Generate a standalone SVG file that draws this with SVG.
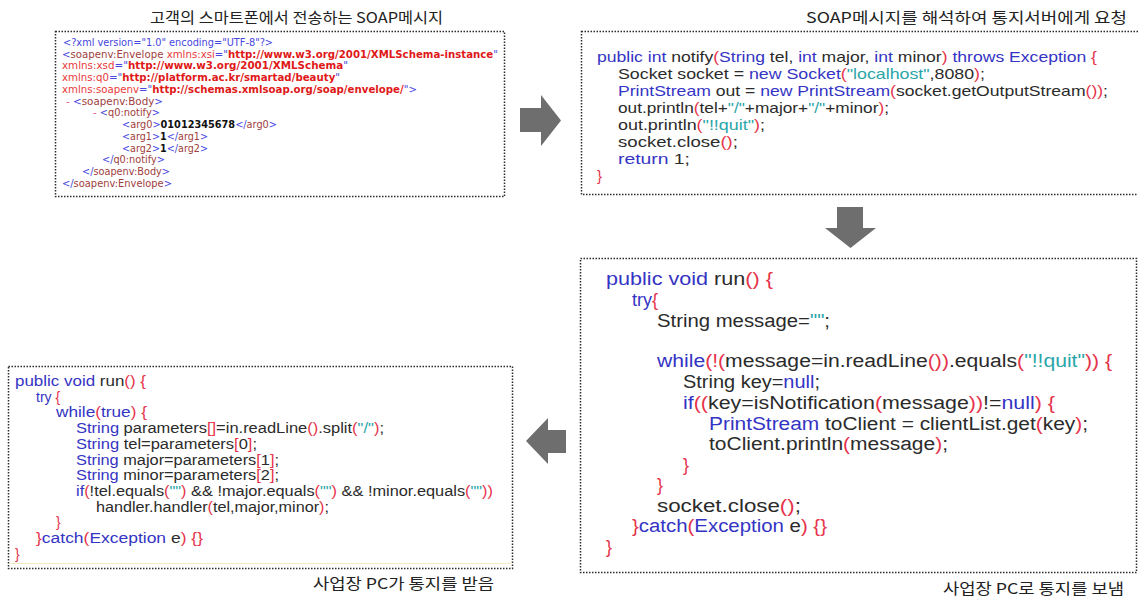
<svg xmlns="http://www.w3.org/2000/svg" width="1138" height="602" viewBox="0 0 1138 602">
  <style>
    .frame { fill: #ffffff; stroke: #2a2a2a; stroke-width: 1.5; stroke-dasharray: 1.5 1.5; }
    .cap { font-family: "Noto Sans CJK KR", "Liberation Sans", sans-serif; font-size: 15px; fill: #222; }
    .xml { font-family: "DejaVu Sans", "Liberation Sans", sans-serif; font-size: 10px; }
    .code { font-family: "Liberation Sans", "DejaVu Sans", sans-serif; fill: #2b2b2b; }
    .c17 { font-size: 15px; }
    .c21 { font-size: 18px; }
    .c16 { font-size: 14px; }
    .k { fill: #3434c4; }
    .p { fill: #e6334a; }
    .s { fill: #2aa6aa; }
    .m { fill: #4646e0; }
    .t { fill: #a04040; }
    .a { fill: #e83a3a; }
    .v { fill: #e01818; font-weight: bold; }
    .b { fill: #111; font-weight: bold; }
    .d { fill: #e06080; }
    .arrow { fill: #6e6e6e; }
  </style>

  <!-- SOAP request sent from the phone -->
  <g id="soap-message">
    <text class="cap" x="150" y="23" textLength="293" lengthAdjust="spacingAndGlyphs">고객의 스마트폰에서 전송하는 SOAP메시지</text>
    <rect class="frame" x="55.5" y="31.5" width="449" height="165"/>
    <text class="xml m" x="63" y="46" textLength="210" lengthAdjust="spacingAndGlyphs">&lt;?xml version="1.0" encoding="UTF-8"?&gt;</text>
    <text class="xml" x="62" y="57.5" textLength="436" lengthAdjust="spacingAndGlyphs"><tspan class="m">&lt;</tspan><tspan class="t">soapenv:Envelope</tspan><tspan class="a"> xmlns:xsi</tspan><tspan class="m">="</tspan><tspan class="v">http://www.w3.org/2001/XMLSchema-instance</tspan><tspan class="m">"</tspan></text>
    <text class="xml" x="62" y="69.2" textLength="286" lengthAdjust="spacingAndGlyphs"><tspan class="a">xmlns:xsd</tspan><tspan class="m">="</tspan><tspan class="v">http://www.w3.org/2001/XMLSchema</tspan><tspan class="m">"</tspan></text>
    <text class="xml" x="62" y="81" textLength="278" lengthAdjust="spacingAndGlyphs"><tspan class="a">xmlns:q0</tspan><tspan class="m">="</tspan><tspan class="v">http://platform.ac.kr/smartad/beauty</tspan><tspan class="m">"</tspan></text>
    <text class="xml" x="62" y="92.7" textLength="355" lengthAdjust="spacingAndGlyphs"><tspan class="a">xmlns:soapenv</tspan><tspan class="m">="</tspan><tspan class="v">http://schemas.xmlsoap.org/soap/envelope/</tspan><tspan class="m">"&gt;</tspan></text>
    <text class="xml" x="66" y="104.5" textLength="97" lengthAdjust="spacingAndGlyphs"><tspan class="d">- </tspan><tspan class="m">&lt;</tspan><tspan class="t">soapenv:Body</tspan><tspan class="m">&gt;</tspan></text>
    <text class="xml" x="93" y="116.2" textLength="67" lengthAdjust="spacingAndGlyphs"><tspan class="d">- </tspan><tspan class="m">&lt;</tspan><tspan class="t">q0:notify</tspan><tspan class="m">&gt;</tspan></text>
    <text class="xml" x="122" y="128" textLength="155" lengthAdjust="spacingAndGlyphs"><tspan class="m">&lt;</tspan><tspan class="t">arg0</tspan><tspan class="m">&gt;</tspan><tspan class="b">01012345678</tspan><tspan class="m">&lt;/</tspan><tspan class="t">arg0</tspan><tspan class="m">&gt;</tspan></text>
    <text class="xml" x="122" y="139.7" textLength="86" lengthAdjust="spacingAndGlyphs"><tspan class="m">&lt;</tspan><tspan class="t">arg1</tspan><tspan class="m">&gt;</tspan><tspan class="b">1</tspan><tspan class="m">&lt;/</tspan><tspan class="t">arg1</tspan><tspan class="m">&gt;</tspan></text>
    <text class="xml" x="122" y="151.5" textLength="86" lengthAdjust="spacingAndGlyphs"><tspan class="m">&lt;</tspan><tspan class="t">arg2</tspan><tspan class="m">&gt;</tspan><tspan class="b">1</tspan><tspan class="m">&lt;/</tspan><tspan class="t">arg2</tspan><tspan class="m">&gt;</tspan></text>
    <text class="xml" x="102" y="163.2" textLength="63" lengthAdjust="spacingAndGlyphs"><tspan class="m">&lt;/</tspan><tspan class="t">q0:notify</tspan><tspan class="m">&gt;</tspan></text>
    <text class="xml" x="82" y="175" textLength="88" lengthAdjust="spacingAndGlyphs"><tspan class="m">&lt;/</tspan><tspan class="t">soapenv:Body</tspan><tspan class="m">&gt;</tspan></text>
    <text class="xml" x="62" y="186.7" textLength="110" lengthAdjust="spacingAndGlyphs"><tspan class="m">&lt;/</tspan><tspan class="t">soapenv:Envelope</tspan><tspan class="m">&gt;</tspan></text>
  </g>

  <!-- Web service method forwarding to the notification server -->
  <g id="notify-method">
    <text class="cap" x="806" y="23" textLength="321" lengthAdjust="spacingAndGlyphs">SOAP메시지를 해석하여 통지서버에게 요청</text>
    <rect class="frame" x="581.5" y="31.5" width="562" height="163"/>
    <text class="code c17" x="597" y="62" textLength="500" lengthAdjust="spacingAndGlyphs"><tspan class="k">public int </tspan><tspan>notify</tspan><tspan class="p">(</tspan><tspan class="k">String </tspan><tspan>tel, </tspan><tspan class="k">int </tspan><tspan>major, </tspan><tspan class="k">int </tspan><tspan>minor</tspan><tspan class="p">) </tspan><tspan class="k">throws Exception </tspan><tspan class="p">{</tspan></text>
    <text class="code c17" x="618" y="79" textLength="367" lengthAdjust="spacingAndGlyphs"><tspan>Socket socket = </tspan><tspan class="k">new Socket</tspan><tspan class="p">(</tspan><tspan class="s">"localhost"</tspan><tspan>,8080</tspan><tspan class="p">)</tspan><tspan>;</tspan></text>
    <text class="code c17" x="618" y="96" textLength="490" lengthAdjust="spacingAndGlyphs"><tspan class="k">PrintStream </tspan><tspan>out = </tspan><tspan class="k">new PrintStream</tspan><tspan class="p">(</tspan><tspan>socket.getOutputStream</tspan><tspan class="p">())</tspan><tspan>;</tspan></text>
    <text class="code c17" x="618" y="113" textLength="271" lengthAdjust="spacingAndGlyphs"><tspan>out.println</tspan><tspan class="p">(</tspan><tspan>tel+</tspan><tspan class="s">"/"</tspan><tspan>+major+</tspan><tspan class="s">"/"</tspan><tspan>+minor</tspan><tspan class="p">)</tspan><tspan>;</tspan></text>
    <text class="code c17" x="618" y="130" textLength="147" lengthAdjust="spacingAndGlyphs"><tspan>out.println</tspan><tspan class="p">(</tspan><tspan class="s">"!!quit"</tspan><tspan class="p">)</tspan><tspan>;</tspan></text>
    <text class="code c17" x="618" y="147" textLength="120" lengthAdjust="spacingAndGlyphs"><tspan>socket.close</tspan><tspan class="p">()</tspan><tspan>;</tspan></text>
    <text class="code c17" x="618" y="164" textLength="72" lengthAdjust="spacingAndGlyphs"><tspan class="k">return </tspan><tspan>1;</tspan></text>
    <text class="code c17 p" x="597" y="181">}</text>
  </g>

  <!-- Notification server thread relaying to the shop PC -->
  <g id="server-run">
    <rect class="frame" x="580.5" y="258.5" width="556" height="314"/>
    <text class="code c21" x="606" y="285" textLength="167" lengthAdjust="spacingAndGlyphs"><tspan class="k">public void </tspan><tspan>run</tspan><tspan class="p">() {</tspan></text>
    <text class="code c21" x="632" y="306"><tspan class="k">try</tspan><tspan class="p">{</tspan></text>
    <text class="code c21" x="657" y="327" textLength="173" lengthAdjust="spacingAndGlyphs"><tspan>String message=</tspan><tspan class="s">""</tspan><tspan>;</tspan></text>
    <text class="code c21" x="657" y="367" textLength="455" lengthAdjust="spacingAndGlyphs"><tspan class="k">while</tspan><tspan class="p">(!(</tspan><tspan>message=in.readLine</tspan><tspan class="p">())</tspan><tspan>.equals</tspan><tspan class="p">(</tspan><tspan class="s">"!!quit"</tspan><tspan class="p">)) {</tspan></text>
    <text class="code c21" x="683" y="388" textLength="137" lengthAdjust="spacingAndGlyphs"><tspan>String key=</tspan><tspan class="k">null</tspan><tspan>;</tspan></text>
    <text class="code c21" x="683" y="409" textLength="372" lengthAdjust="spacingAndGlyphs"><tspan class="k">if</tspan><tspan class="p">((</tspan><tspan>key=isNotification</tspan><tspan class="p">(</tspan><tspan>message</tspan><tspan class="p">))</tspan><tspan>!=</tspan><tspan class="k">null</tspan><tspan class="p">) {</tspan></text>
    <text class="code c21" x="709" y="429.5" textLength="379" lengthAdjust="spacingAndGlyphs"><tspan class="k">PrintStream </tspan><tspan>toClient = clientList.get</tspan><tspan class="p">(</tspan><tspan>key</tspan><tspan class="p">)</tspan><tspan>;</tspan></text>
    <text class="code c21" x="709" y="450" textLength="239" lengthAdjust="spacingAndGlyphs"><tspan>toClient.println</tspan><tspan class="p">(</tspan><tspan>message</tspan><tspan class="p">)</tspan><tspan>;</tspan></text>
    <text class="code c21 p" x="683" y="470.5">}</text>
    <text class="code c21 p" x="657" y="491">}</text>
    <text class="code c21" x="657" y="511.5" textLength="144" lengthAdjust="spacingAndGlyphs"><tspan>socket.close</tspan><tspan class="p">()</tspan><tspan>;</tspan></text>
    <text class="code c21" x="632" y="532" textLength="195" lengthAdjust="spacingAndGlyphs"><tspan class="p">}</tspan><tspan class="k">catch</tspan><tspan class="p">(</tspan><tspan class="k">Exception </tspan><tspan>e</tspan><tspan class="p">) {}</tspan></text>
    <text class="code c21 p" x="606" y="552.5">}</text>
    <text class="cap" x="943" y="594" textLength="181" lengthAdjust="spacingAndGlyphs">사업장 PC로 통지를 보냄</text>
  </g>

  <!-- Client thread on the shop PC -->
  <g id="client-run">
    <rect class="frame" x="8.5" y="366.5" width="504" height="202"/>
    <line x1="10" y1="563.5" x2="511" y2="563.5" stroke="#f1ecc4" stroke-width="1"/>
    <text class="code c16" x="15" y="386" textLength="131" lengthAdjust="spacingAndGlyphs"><tspan class="k">public void </tspan><tspan>run</tspan><tspan class="p">() {</tspan></text>
    <text class="code c16" x="36" y="401.7"><tspan class="k">try </tspan><tspan class="p">{</tspan></text>
    <text class="code c16" x="56" y="417.4" textLength="91" lengthAdjust="spacingAndGlyphs"><tspan class="k">while</tspan><tspan class="p">(</tspan><tspan class="k">true</tspan><tspan class="p">) {</tspan></text>
    <text class="code c16" x="76" y="433.1" textLength="308" lengthAdjust="spacingAndGlyphs"><tspan class="k">String </tspan><tspan>parameters</tspan><tspan class="p">[]</tspan><tspan>=in.readLine</tspan><tspan class="p">()</tspan><tspan>.split</tspan><tspan class="p">(</tspan><tspan class="s">"/"</tspan><tspan class="p">)</tspan><tspan>;</tspan></text>
    <text class="code c16" x="76" y="448.8" textLength="181" lengthAdjust="spacingAndGlyphs"><tspan class="k">String </tspan><tspan>tel=parameters</tspan><tspan class="p">[</tspan><tspan>0</tspan><tspan class="p">]</tspan><tspan>;</tspan></text>
    <text class="code c16" x="76" y="464.5" textLength="203" lengthAdjust="spacingAndGlyphs"><tspan class="k">String </tspan><tspan>major=parameters</tspan><tspan class="p">[</tspan><tspan>1</tspan><tspan class="p">]</tspan><tspan>;</tspan></text>
    <text class="code c16" x="76" y="480.2" textLength="203" lengthAdjust="spacingAndGlyphs"><tspan class="k">String </tspan><tspan>minor=parameters</tspan><tspan class="p">[</tspan><tspan>2</tspan><tspan class="p">]</tspan><tspan>;</tspan></text>
    <text class="code c16" x="76" y="495.9" textLength="417" lengthAdjust="spacingAndGlyphs"><tspan class="k">if</tspan><tspan class="p">(</tspan><tspan>!tel.equals</tspan><tspan class="p">(</tspan><tspan class="s">""</tspan><tspan class="p">)</tspan><tspan> &amp;&amp; !major.equals</tspan><tspan class="p">(</tspan><tspan class="s">""</tspan><tspan class="p">)</tspan><tspan> &amp;&amp; !minor.equals</tspan><tspan class="p">(</tspan><tspan class="s">""</tspan><tspan class="p">))</tspan></text>
    <text class="code c16" x="96" y="511.6" textLength="233" lengthAdjust="spacingAndGlyphs"><tspan>handler.handler</tspan><tspan class="p">(</tspan><tspan>tel,major,minor</tspan><tspan class="p">)</tspan><tspan>;</tspan></text>
    <text class="code c16 p" x="56" y="527.3">}</text>
    <text class="code c16" x="36" y="543" textLength="167" lengthAdjust="spacingAndGlyphs"><tspan class="p">}</tspan><tspan class="k">catch</tspan><tspan class="p">(</tspan><tspan class="k">Exception </tspan><tspan>e</tspan><tspan class="p">) {}</tspan></text>
    <text class="code c16 p" x="15" y="558.7">}</text>
    <text class="cap" x="313" y="589" textLength="181" lengthAdjust="spacingAndGlyphs">사업장 PC가 통지를 받음</text>
  </g>

  <!-- Flow arrows between the stages -->
  <g id="connectors">
    <polygon class="arrow" points="520,108 541,108 541,95 561,120.5 541,146 541,132 520,132"/>
    <polygon class="arrow" points="837,207 863,207 863,228 876,228 850.5,248 825,228 837,228"/>
    <polygon class="arrow" points="566,430 548,430 548,418 526,441 548,464 548,453 566,453"/>
  </g>
</svg>
